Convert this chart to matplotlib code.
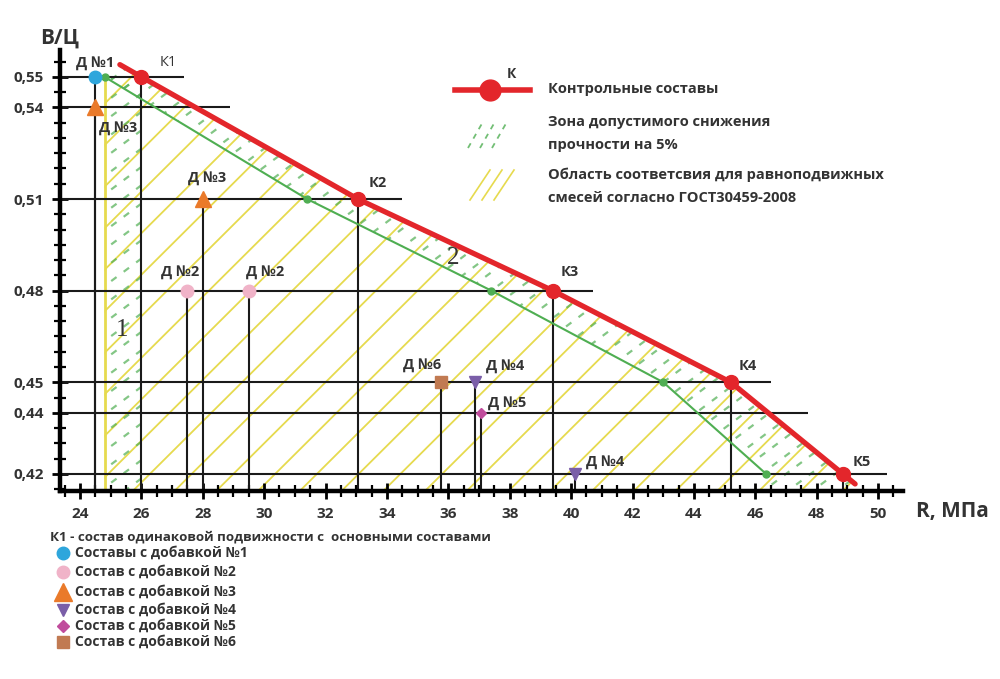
import numpy as np
import matplotlib
matplotlib.use('Agg')
import matplotlib.pyplot as plt
from matplotlib.patches import Polygon
from matplotlib.ticker import MultipleLocator, FixedLocator, FuncFormatter

plt.rcParams['font.family'] = ['Open Sans', 'DejaVu Sans']

# контрольные составы (красная линия)
k_names = ['К1', 'К2', 'К3', 'К4', 'К5']
k_r = [26.0, 33.05, 39.4, 45.2, 48.85]
k_wc = [0.55, 0.51, 0.48, 0.45, 0.42]
red_start = (25.3, 0.554)
red_end = (49.25, 0.4167)

# граница зоны снижения прочности на 5%
green_r = [24.8, 31.4, 37.4, 43.0, 46.35]
green_wc = [0.55, 0.51, 0.48, 0.45, 0.42]

# составы с добавками
d1_r, d1_wc = [24.5], [0.55]
d2_r, d2_wc = [27.5, 29.5], [0.48, 0.48]
d3_r, d3_wc = [24.5, 28.0], [0.54, 0.51]
d4_r, d4_wc = [36.87, 40.12], [0.45, 0.42]
d5_r, d5_wc = [37.06], [0.44]
d6_r, d6_wc = [35.76], [0.45]

y_ticks = [0.55, 0.54, 0.51, 0.48, 0.45, 0.44, 0.42]
hline_end = [27.4, 28.9, 34.5, 40.7, 46.5, 47.7, 50.3]
x_ticks = list(range(24, 51, 2))

XMIN, XMAX = 23.35, 50.81
YMIN, YMAX = 0.4144, 0.5588

txt = '#333333'
red = '#e3262b'
green = '#4fae52'
yellow = '#e6da4e'

fig = plt.figure(figsize=(10, 6.79), dpi=100)
ax = fig.add_axes([0.06, 0.2769, 0.843, 0.6495])


def hatch(ax, pts, slope, step, **kw):
    poly = Polygon(pts, closed=True, fc='none', ec='none')
    ax.add_patch(poly)
    xs = np.array([20.0, 55.0])
    for c in np.arange(-5, 70, step):
        ln, = ax.plot(xs, 0.42 + slope * (xs - c), **kw)
        ln.set_clip_path(poly)


red_pts = [red_start] + list(zip(k_r, k_wc)) + [red_end]

# жёлтая область
yel_poly = [(24.8, YMIN), (24.8, 0.551)] + red_pts + [(49.5, YMIN)]
hatch(ax, yel_poly, 0.01, 1.36, color=yellow, lw=1.3, zorder=1)

# зелёная зона
grn_poly = red_pts[:-1] + [red_end, (49.4, YMIN), (46.6, YMIN)] + \
    list(zip(green_r, green_wc))[::-1]
strip = [(24.8, YMIN), (26.0, YMIN), (26.0, 0.55), (24.8, 0.55)]
for p in (grn_poly, strip):
    hatch(ax, p, 0.0075, 0.8, color=green, lw=1.6, alpha=0.7,
          ls=(0, (3, 4)), zorder=1.5)

# жёлтая вертикаль
ax.plot([24.8, 24.8], [YMIN, 0.55], color=yellow, lw=2, zorder=2)

# сетка
ax.hlines(y_ticks, XMIN, hline_end, color='#1a1a1a', lw=1.5, zorder=3)
vx = k_r + d1_r + d2_r + d3_r + d4_r + d5_r + d6_r
vy = k_wc + d1_wc + d2_wc + d3_wc + d4_wc + d5_wc + d6_wc
ax.vlines(vx, YMIN, vy, color='#1a1a1a', lw=1.5, zorder=3)

# зелёная граница
ax.plot(green_r, green_wc, color=green, lw=1.5, marker='o', ms=5, zorder=4)

# красная линия
rx, ry = zip(*red_pts)
ax.plot(rx, ry, color=red, lw=3.8, solid_capstyle='round', zorder=5)
ax.plot(k_r, k_wc, 'o', color=red, ms=10, zorder=6)

# добавки
ax.plot(d1_r, d1_wc, 'o', color='#2ea6dc', ms=9, zorder=7)
ax.plot(d2_r, d2_wc, 'o', color='#f0b3c8', ms=9, zorder=7)
ax.plot(d3_r, d3_wc, '^', color='#ea7a2a', ms=11, zorder=7)
ax.plot(d4_r, d4_wc, 'v', color='#7a5ea8', ms=8, zorder=7)
ax.plot(d5_r, d5_wc, 'D', color='#c04c9c', ms=5, zorder=7)
ax.plot(d6_r, d6_wc, 's', color='#c17a52', ms=8, zorder=7)

lab = dict(fontsize=10.5, fontweight='bold', color=txt, ha='center', va='center', zorder=8)
ax.text(24.49, 0.5546, 'Д №1', **lab)
ax.text(26.87, 0.5546, 'К1', fontsize=10.5, color=txt, ha='center', va='center')
ax.text(25.24, 0.5333, 'Д №3', **lab)
ax.text(28.14, 0.5169, 'Д №3', **lab)
ax.text(27.26, 0.4861, 'Д №2', **lab)
ax.text(30.03, 0.4861, 'Д №2', **lab)
ax.text(35.14, 0.4557, 'Д №6', **lab)
ax.text(37.84, 0.4552, 'Д №4', **lab)
ax.text(37.9, 0.4433, 'Д №5', **lab)
ax.text(41.1, 0.4239, 'Д №4', **lab)
k_lab = [(33.7, 0.5153), (39.96, 0.4861), (45.76, 0.4554), (49.47, 0.4239)]
for name, (x, y) in zip(k_names[1:], k_lab):
    ax.text(x, y, name, **lab)
ax.text(25.37, 0.4672, '1', fontsize=18, family='Liberation Serif', color=txt,
        ha='center', va='center', zorder=8)
ax.text(36.15, 0.4907, '2', fontsize=18, family='Liberation Serif', color=txt,
        ha='center', va='center', zorder=8)

# оси
ax.set_xlim(XMIN, XMAX)
ax.set_ylim(YMIN, YMAX)
for s in ('top', 'right'):
    ax.spines[s].set_visible(False)
for s in ('left', 'bottom'):
    ax.spines[s].set_linewidth(3.2)
    ax.spines[s].set_color('black')
    ax.spines[s].set_zorder(9)
ax.xaxis.set_major_locator(FixedLocator(x_ticks))
ax.xaxis.set_minor_locator(MultipleLocator(0.5))
ax.yaxis.set_major_locator(FixedLocator(y_ticks))
ax.yaxis.set_minor_locator(MultipleLocator(0.005))
ax.yaxis.set_major_formatter(FuncFormatter(lambda v, p: ('%.2f' % v).replace('.', ',')))
ax.tick_params(which='both', direction='inout', color='black', width=2)
ax.tick_params(which='major', length=11, labelsize=11, labelcolor=txt, pad=6)
ax.tick_params(which='minor', length=9, width=1.6)
for t in ax.get_xticklabels() + ax.get_yticklabels():
    t.set_fontweight('bold')

# подписи и легенды (в пикселях)
ov = fig.add_axes([0, 0, 1, 1], zorder=10)
ov.set_xlim(0, 1000)
ov.set_ylim(679, 0)
ov.axis('off')

ov.text(60, 38, 'В/Ц', fontsize=15, fontweight='bold', color=txt, ha='center', va='center')
ov.text(952, 512, 'R, МПа', fontsize=15, fontweight='bold', color=txt, ha='center', va='center')

ov.plot([455, 530], [90, 90], color=red, lw=4)
ov.plot([490], [90], 'o', color=red, ms=15)
ov.text(511, 74, 'К', fontsize=10, fontweight='bold', color=txt, ha='center', va='center')
leg = dict(fontsize=10.5, fontweight='bold', color=txt, ha='left', va='center')
ov.text(548, 89, 'Контрольные составы', **leg)
ov.text(548, 122, 'Зона допустимого снижения', **leg)
ov.text(548, 145, 'прочности на 5%', **leg)
ov.text(548, 175, 'Область соответсвия для равноподвижных', **leg)
ov.text(548, 198, 'смесей согласно ГОСТ30459-2008', **leg)
for dx in (0, 12, 24):
    ov.plot([468 + dx, 484 + dx], [148, 120], color=green, lw=1.3,
            ls=(0, (3, 3)), alpha=0.8)
for dx in (0, 12, 24):
    ov.plot([470 + dx, 490 + dx], [200, 170], color=yellow, lw=1.2)

ov.text(50, 537, 'К1 - состав одинаковой подвижности с  основными составами',
        fontsize=9.6, fontweight='bold', color=txt, ha='left', va='center')
items = [('o', '#2ea6dc', 9, 'Составы с добавкой №1'),
         ('o', '#f0b3c8', 9, 'Состав с добавкой №2'),
         ('^', '#ea7a2a', 13, 'Состав с добавкой №3'),
         ('v', '#7a5ea8', 8, 'Состав с добавкой №4'),
         ('D', '#c04c9c', 6, 'Состав с добавкой №5'),
         ('s', '#c17a52', 8, 'Состав с добавкой №6')]
rows = [553, 572, 592, 610, 626, 642]
for (m, c, ms, t), y in zip(items, rows):
    ov.plot([63], [y], m, color=c, ms=ms)
    ov.text(75, y, t, fontsize=10, fontweight='bold', color=txt, ha='left', va='center')

fig.savefig('out.png', dpi=100)
